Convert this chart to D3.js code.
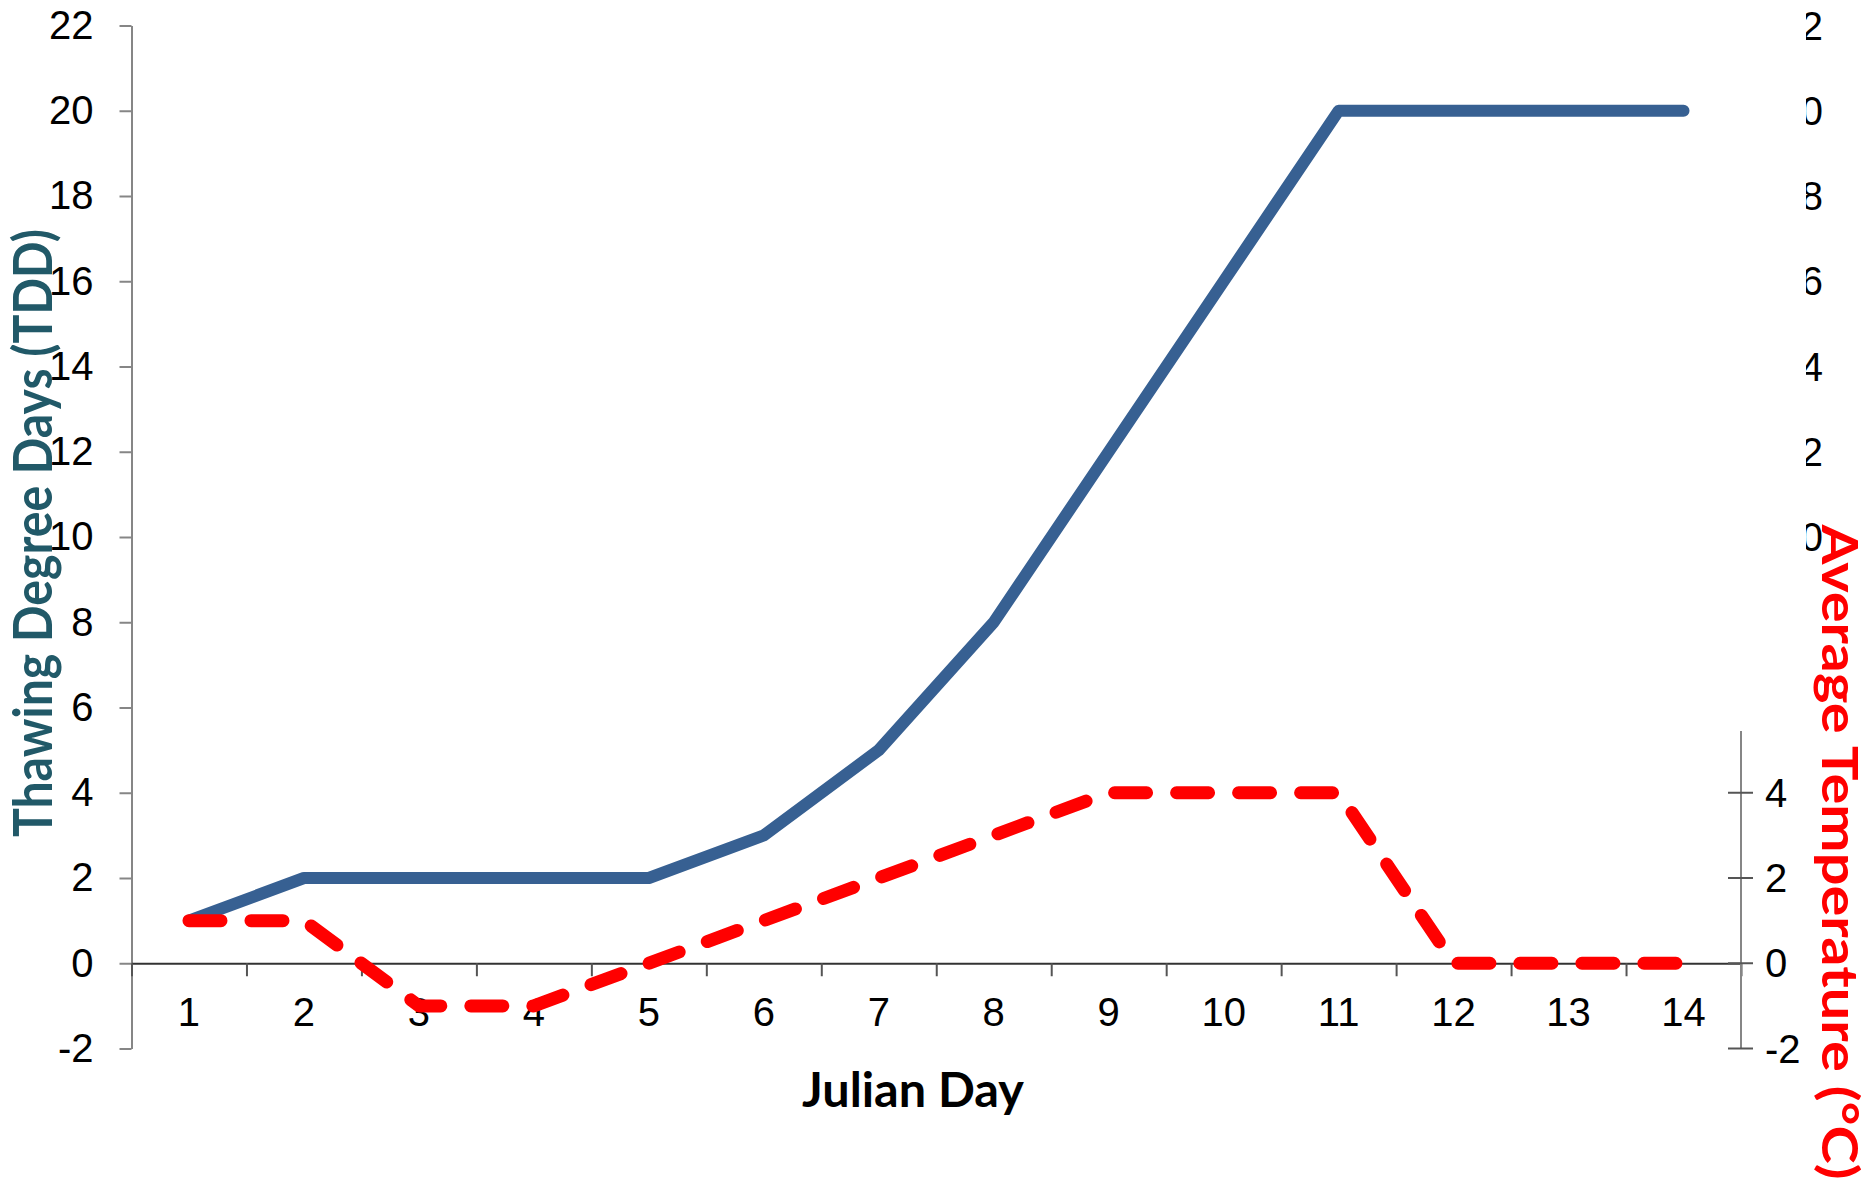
<!DOCTYPE html>
<html>
<head>
<meta charset="utf-8">
<script src="https://cdn.jsdelivr.net/npm/d3@7"></script>
<style>
  body { margin: 0; background: #fff; }
  svg { display: block; }
  .tick text { font-family: "Liberation Sans", Arial, sans-serif; font-size: 40px; fill: #000; }
</style>
</head>
<body>
<svg width="1875" height="1182"></svg>
<script>
// data
var days = [1, 2, 3, 4, 5, 6, 7, 8, 9, 10, 11, 12, 13, 14];
var tdd = [1, 2, 2, 2, 2, 3, 5, 8, 12, 16, 20, 20, 20, 20];
var avgTemp = [1, 1, -1, -1, 0, 1, 2, 3, 4, 4, 4, 0, 0, 0];
var leftTicks = [-2, 0, 2, 4, 6, 8, 10, 12, 14, 16, 18, 20, 22];
var rightTicks = [-2, 0, 2, 4];
// stray clipped labels that show at the far right of the picture
var ghostTicks = [10, 12, 14, 16, 18, 20, 22];

var svg = d3.select("svg"),
    plotLeft = 131.5, plotRight = 1741,
    plotTop = 25.5, plotBottom = 1048.5;

// plain hyphen minus like the original
var fmt = function(d) { return String(d); };

var x = d3.scaleBand().domain(days).range([plotLeft, plotRight]);
var yL = d3.scaleLinear().domain([-2, 22]).range([plotBottom, plotTop]);
var yR = d3.scaleLinear().domain([-2, 22]).range([plotBottom, plotTop]);

// left axis
var gl = svg.append("g")
    .attr("transform", "translate(" + plotLeft + ",0)")
    .call(d3.axisLeft(yL).tickValues(leftTicks).tickFormat(fmt).tickSize(12).tickPadding(26).tickSizeOuter(0));
gl.select(".domain").attr("stroke", "#868686").attr("stroke-width", 2);
gl.selectAll(".tick line").attr("stroke", "#868686").attr("stroke-width", 2);

// x axis: line at zero, ticks on band edges
var y0 = yL(0);
var edges = d3.scaleLinear().domain([0.5, 14.5]).range([plotLeft, plotRight]);
var gx = svg.append("g")
    .attr("transform", "translate(0," + y0 + ")")
    .call(d3.axisBottom(edges).tickValues(d3.range(0.5, 15, 1)).tickSize(13).tickFormat("").tickSizeOuter(0));
gx.select(".domain").attr("stroke", "#333").attr("stroke-width", 2);
gx.selectAll(".tick line").attr("stroke", "#555").attr("stroke-width", 2);

var gxl = svg.append("g")
    .attr("transform", "translate(0," + y0 + ")")
    .call(d3.axisBottom(x).tickSize(0).tickPadding(34));
gxl.select(".domain").remove();

// right axis (temperature), short line with crossing ticks
var gr = svg.append("g").attr("transform", "translate(" + plotRight + ",0)");
gr.append("line")
    .attr("y1", yR(-2)).attr("y2", yR(5.45))
    .attr("stroke", "#868686").attr("stroke-width", 2);
var rt = gr.selectAll(".rtick").data(rightTicks).enter().append("g")
    .attr("class", "tick")
    .attr("transform", function(d) { return "translate(0," + yR(d) + ")"; });
rt.append("line").attr("x1", -13).attr("x2", 12).attr("stroke", "#555").attr("stroke-width", 2);
rt.append("text").attr("x", 24).attr("dy", "0.35em").text(fmt);

// clipped ghost labels
svg.append("clipPath").attr("id", "ghostclip")
  .append("rect").attr("x", 1806).attr("y", 0).attr("width", 80).attr("height", 1182);
var gg = svg.append("g").attr("clip-path", "url(#ghostclip)");
gg.selectAll("g").data(ghostTicks).enter().append("g")
    .attr("class", "tick")
    .attr("transform", function(d) { return "translate(1823," + yL(d) + ")"; })
  .append("text").attr("text-anchor", "end").attr("dy", "0.35em").text(fmt);

// series
var cx = function(d, i) { return x(days[i]) + x.bandwidth() / 2; };

svg.append("path")
    .datum(tdd)
    .attr("fill", "none")
    .attr("stroke", "#376092")
    .attr("stroke-width", 12)
    .attr("stroke-linecap", "round")
    .attr("stroke-linejoin", "round")
    .attr("d", d3.line().x(cx).y(function(d) { return yL(d); }));

svg.append("path")
    .datum(avgTemp)
    .attr("fill", "none")
    .attr("stroke", "#ff0000")
    .attr("stroke-width", 13)
    .attr("stroke-dasharray", "32,30")
    .attr("stroke-linecap", "round")
    .attr("stroke-linejoin", "round")
    .attr("d", d3.line().x(cx).y(function(d) { return yR(d); }));

// titles
var titleFont = "Lato, 'Open Sans', sans-serif";
svg.append("text")
    .attr("transform", "translate(52,533)rotate(-90)")
    .attr("text-anchor", "middle")
    .attr("font-family", titleFont).attr("font-weight", "bold").attr("font-size", 53)
    .attr("fill", "#215968")
    .attr("textLength", 608).attr("lengthAdjust", "spacingAndGlyphs")
    .text("Thawing Degree Days (TDD)");

svg.append("text")
    .attr("transform", "translate(1822,852)rotate(90)")
    .attr("text-anchor", "middle")
    .attr("font-family", titleFont).attr("font-weight", "bold").attr("font-size", 49)
    .attr("fill", "#ff0000")
    .attr("textLength", 655).attr("lengthAdjust", "spacingAndGlyphs")
    .text("Average Temperature (°C)");

svg.append("text")
    .attr("x", 913).attr("y", 1107)
    .attr("text-anchor", "middle")
    .attr("font-family", titleFont).attr("font-weight", "bold").attr("font-size", 47)
    .attr("fill", "#000")
    .attr("textLength", 222).attr("lengthAdjust", "spacingAndGlyphs")
    .text("Julian Day");
</script>
</body>
</html>
